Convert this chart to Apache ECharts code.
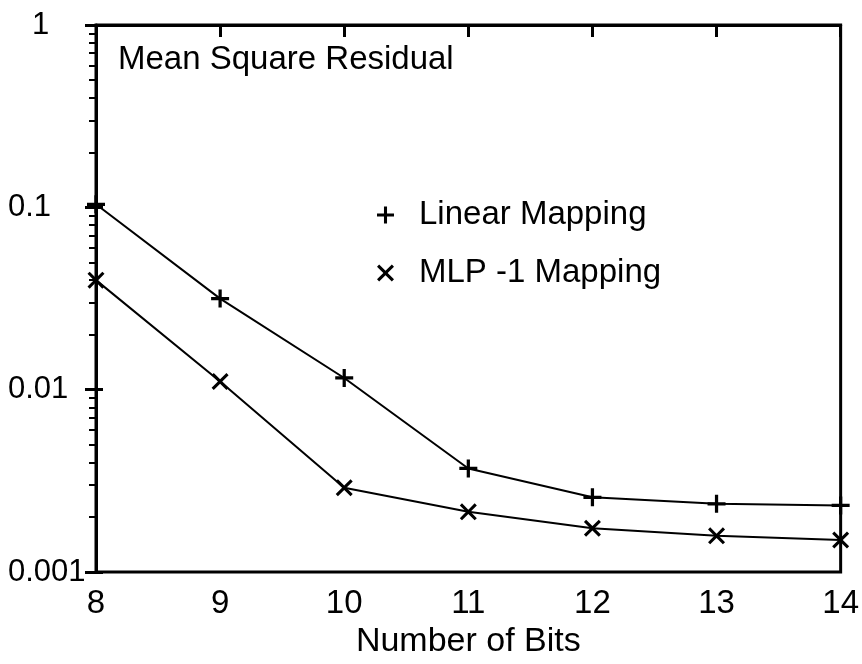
<!DOCTYPE html>
<html>
<head>
<meta charset="utf-8">
<script src="https://cdn.jsdelivr.net/npm/echarts@6/dist/echarts.min.js"></script>
<style>
  html, body { margin: 0; padding: 0; background: #fff; }
  #chart { width: 862px; height: 664px; }
</style>
</head>
<body>
<div id="chart"></div>
<script>
// Word length (bits) on the x axis
const bits = [8, 9, 10, 11, 12, 13, 14];
// Mean square residual for each mapping
const linearMapping = [0.104, 0.0316, 0.0116, 0.0037, 0.00257, 0.00237, 0.00232];
const mlpMapping = [0.0399, 0.0111, 0.0029, 0.00214, 0.00174, 0.00158, 0.0015];
// Decade tick labels of the log axis
const decadeLabels = ['0.001', '0.01', '0.1', '1'];
// Minor ticks sit at 2..9 times each decade (expressed as log10 exponents)
const minorExponents = [];
[-3, -2, -1].forEach(function (d) {
  for (let m = 2; m <= 9; m++) minorExponents.push(d + Math.log10(m));
});

const plusPath = 'path://M4.1,0H5.9V4.1H10V5.9H5.9V10H4.1V5.9H0V4.1H4.1Z';
const crossPath = 'path://M0,1.27L1.27,0L5,3.73L8.73,0L10,1.27L6.27,5L10,8.73L8.73,10L5,6.27L1.27,10L0,8.73L3.73,5Z';

const FONT = 'Liberation Sans';

const chart = echarts.init(document.getElementById('chart'), null, { renderer: 'canvas' });

chart.setOption({
  animation: false,
  backgroundColor: '#fff',
  title: {
    text: 'Mean Square Residual',
    left: 118,
    top: 43,
    padding: 0,
    textStyle: { fontFamily: FONT, fontSize: 33, fontWeight: 'normal', color: '#000' }
  },
  legend: {
    orient: 'vertical',
    left: 372,
    top: 192,
    itemWidth: 17,
    itemHeight: 17,
    itemGap: 22,
    selectedMode: false,
    textStyle: { fontFamily: FONT, fontSize: 33, color: '#000', lineHeight: 36, padding: [0, 0, 0, 20] },
    data: [
      { name: 'Linear Mapping', icon: plusPath },
      { name: 'MLP -1 Mapping', icon: crossPath }
    ]
  },
  grid: {
    left: 96, right: 14, top: 25, bottom: 88,
    show: true, borderColor: '#000', borderWidth: 3,
    containLabel: false
  },
  xAxis: {
    type: 'value',
    min: 8, max: 14, interval: 1,
    name: 'Number of Bits',
    nameLocation: 'middle',
    nameGap: 46,
    nameTextStyle: { fontFamily: FONT, fontSize: 34, color: '#000' },
    axisLine: { lineStyle: { color: '#000', width: 3 } },
    axisTick: { inside: false, length: 12, lineStyle: { color: '#000', width: 3 } },
    axisLabel: { fontFamily: FONT, fontSize: 33, color: '#000', margin: 15 },
    splitLine: { show: false }
  },
  yAxis: [
    {
      type: 'log',
      logBase: 10,
      min: 0.001, max: 1,
      position: 'left',
      axisLine: { lineStyle: { color: '#000', width: 3 } },
      axisTick: { inside: false, length: 11, lineStyle: { color: '#000', width: 3 } },
      axisLabel: {
        fontFamily: FONT, fontSize: 31, color: '#000',
        align: 'left', margin: 88,
        formatter: function (v) {
          const lbl = decadeLabels[Math.round(Math.log10(v)) + 3];
          return lbl === '1' ? '{one|1}' : lbl;
        },
        rich: { one: { fontFamily: FONT, fontSize: 31, color: '#000', padding: [0, 0, 0, 24] } }
      },
      splitLine: { show: false }
    },
    {
      // inward half of the decade ticks
      type: 'value',
      min: -3, max: 0, interval: 1,
      position: 'left',
      axisLine: { show: false },
      axisTick: { inside: true, length: 7, lineStyle: { color: '#000', width: 3 } },
      axisLabel: { show: false },
      splitLine: { show: false }
    },
    {
      // minor ticks at 2..9 within each decade
      type: 'value',
      min: -3, max: 0,
      position: 'left',
      axisLine: { show: false },
      axisTick: { inside: false, length: 7, customValues: minorExponents, lineStyle: { color: '#000', width: 2 } },
      axisLabel: { show: false },
      splitLine: { show: false }
    }
  ],
  series: [
    {
      name: 'Linear Mapping',
      type: 'line',
      yAxisIndex: 0,
      data: bits.map(function (b, i) { return [b, linearMapping[i]]; }),
      symbol: plusPath,
      symbolSize: 18,
      itemStyle: { color: '#000' },
      lineStyle: { color: '#000', width: 2 }
    },
    {
      name: 'MLP -1 Mapping',
      type: 'line',
      yAxisIndex: 0,
      data: bits.map(function (b, i) { return [b, mlpMapping[i]]; }),
      symbol: crossPath,
      symbolSize: 17,
      itemStyle: { color: '#000' },
      lineStyle: { color: '#000', width: 2 }
    }
  ]
});
</script>
</body>
</html>
